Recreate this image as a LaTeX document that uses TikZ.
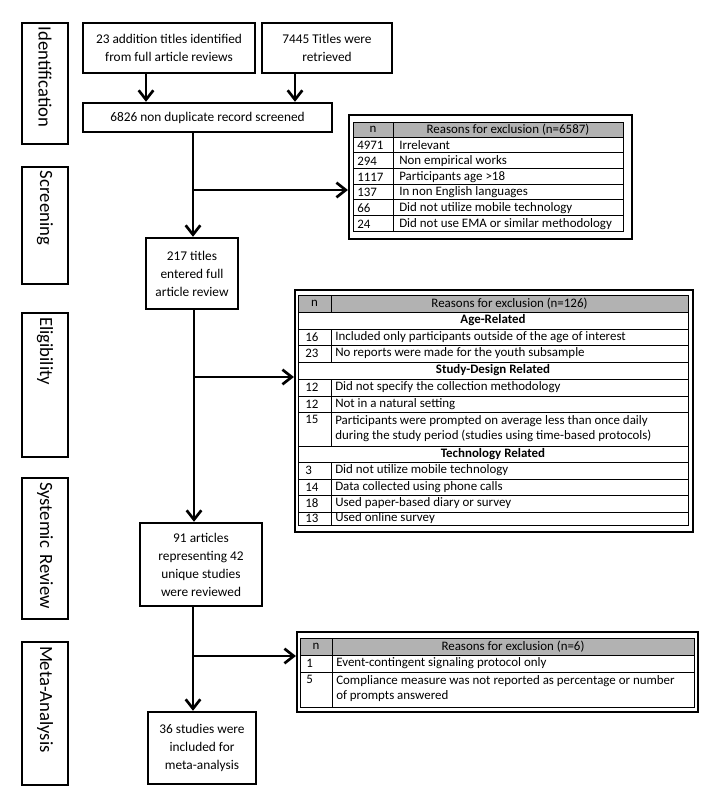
\documentclass[tikz,border=0pt]{standalone}
\usepackage{fontspec}
\setmainfont{Carlito}
\usetikzlibrary{arrows.meta,positioning,calc}

\begin{document}
\begin{tikzpicture}[x=0.75pt, y=-0.75pt,
    stage/.style={draw, line width=0.8pt, rotate=-90, align=left, inner sep=3pt, minimum height=34.5pt, font=\fontsize{14}{16}\selectfont},
    box/.style={draw, line width=1.8pt, align=center, inner sep=2pt, font=\fontsize{10}{13.5}\selectfont},
    frame/.style={draw, line width=1.6pt, inner sep=0pt},
    rule/.style={line width=0.6pt},
    hdrfill/.style={fill=gray!60},
    cell/.style={anchor=west, inner sep=0pt, font=\fontsize{9.7}{11.2}\selectfont},
    subhd/.style={anchor=center, inner sep=0pt, font=\bfseries\fontsize{9.7}{11.2}\selectfont},
    arr/.style={-{Straight Barb[length=7pt, width=11pt]}, line width=2pt}
]
\useasboundingbox (0,0) rectangle (720,809);

% --- Stage labels ---
\node[stage, text width=84.75pt] (sid) at (45,83.5) {Identification};
\node[stage, text width=81.75pt] (sscr) at (45,225.5) {Screening};
\node[stage, text width=102pt] (selig) at (45,385) {Eligibility};
\node[stage, text width=99.75pt] (ssys) at (45,548.5) {Systemic Review};
\node[stage, text width=101.25pt] (smeta) at (45,713.5) {Meta-Analysis};

% --- Flow boxes ---
\node[box, minimum width=129pt, minimum height=37.5pt] (add) at (169,48) {23 addition titles identified\\from full article reviews};
\node[box, minimum width=97.5pt, minimum height=37.5pt] (ret) at (327,48) {7445 Titles were\\retrieved};
\node[box, minimum width=186.75pt, minimum height=21.75pt] (scr) at (207.5,117.5) {6826 non duplicate record screened};
\node[box, minimum width=69pt, minimum height=53.25pt] (full) at (192,273.5) {217 titles\\entered full\\article review};
\node[box, minimum width=91.5pt, minimum height=62.25pt] (rev) at (201,564.5) {91 articles\\representing 42\\unique studies\\were reviewed};
\node[box, minimum width=81pt, minimum height=54pt] (meta) at (202,748) {36 studies were\\included for\\meta-analysis};

% --- Screening exclusions ---
\node[frame, minimum width=212.25pt, minimum height=93pt] (excl1) at (490.5,177) {};
\fill[hdrfill] (353,122) rectangle (623,137);
\node[cell, anchor=center] (h1n) at (373,129.5) {n};
\node[cell, anchor=center] (h1r) at (508,129.5) {Reasons for exclusion (n=6587)};
\begin{scope}
  \clip (353,122) rectangle (623,231);
  \foreach \n/\r [count=\i] in {4971/Irrelevant, 294/Non empirical works, 1117/Participants age >18, 137/In non English languages, 66/Did not utilize mobile technology, 24/Did not use EMA or similar methodology}{
    \pgfmathsetmacro{\yy}{137+(\i-1)*15.7+8.5}
    \node[cell] (n1-\i) at (357,\yy) {\n};
    \node[cell] (r1-\i) at (399,\yy) {\r};
    \draw[rule] (353,{137+(\i-1)*15.7}) -- (623,{137+(\i-1)*15.7});
  }
\end{scope}
\draw[rule] (353,122) rectangle (623,231);
\draw[rule] (393,122) -- (393,231);

% --- Eligibility exclusions ---
\node[frame, minimum width=298.5pt, minimum height=181.5pt] (excl2) at (494,411) {};
\fill[hdrfill] (298,295) rectangle (688,312);
\draw[rule] (298,295) rectangle (688,525);
\foreach \y in {312,329,345,362,379,396,412,446,462,479,495,512}
  \draw[rule] (298,\y) -- (688,\y);
\draw[rule] (331,295) -- (331,312) (331,329) -- (331,362) (331,379) -- (331,446) (331,462) -- (331,525);
\node[cell, anchor=center] (h2n) at (314.5,303.5) {n};
\node[cell, anchor=center] (h2r) at (509.5,303.5) {Reasons for exclusion (n=126)};
\node[subhd] (age) at (493,320.5) {Age-Related};
\node[subhd] (design) at (493,370.5) {Study-Design Related};
\node[subhd] (tech) at (493,454) {Technology Related};
\foreach \y/\n/\r [count=\i] in {337/16/Included only participants outside of the age of interest, 353.5/23/No reports were made for the youth subsample, 387.5/12/Did not specify the collection methodology, 404/12/Not in a natural setting, 470.5/3/Did not utilize mobile technology, 487/14/Data collected using phone calls, 503.5/18/Used paper-based diary or survey, 518.5/13/Used online survey}{
  \node[cell] (n2-\i) at (305,\y) {\n};
  \node[cell] (r2-\i) at (335,\y) {\r};
}
\node[cell, anchor=north west] (n2-p) at (305,415) {15};
\node[cell, anchor=north west, align=left] (r2-p) at (335,415) {Participants were prompted on average less than once daily\\during the study period (studies using time-based protocols)};

% --- Meta-analysis exclusions ---
\node[frame, minimum width=300.75pt, minimum height=60pt] (excl3) at (497.5,672) {};
\fill[hdrfill] (300,638) rectangle (694,655);
\draw[rule] (300,638) rectangle (694,707);
\draw[rule] (300,655) -- (694,655) (300,672) -- (694,672) (332,638) -- (332,707);
\node[cell, anchor=center] (h3n) at (316,646.5) {n};
\node[cell, anchor=center] (h3r) at (513,646.5) {Reasons for exclusion (n=6)};
\node[cell] (n3-1) at (306,663.5) {1};
\node[cell] (r3-1) at (336,663.5) {Event-contingent signaling protocol only};
\node[cell, anchor=north west] (n3-2) at (306,675) {5};
\node[cell, anchor=north west, align=left] (r3-2) at (336,675) {Compliance measure was not reported as percentage or number\\of prompts answered};

% --- Connectors ---
\coordinate (ca) at (146,0);
\coordinate (cr) at (295,0);
\coordinate (cm) at (193,0);
\coordinate (j1) at (193,190);
\coordinate (j2) at (194,377);
\coordinate (j3) at (193,656);
\draw[arr] (ca |- add.south) -- (ca |- scr.north);
\draw[arr] (cr |- ret.south) -- (cr |- scr.north);
\draw[arr] (cm |- scr.south) -- (cm |- full.north);
\draw[arr] (j1) -- (j1 -| excl1.west);
\draw[arr] (j2 |- full.south) -- (j2 |- rev.north);
\draw[arr] (j2) -- (j2 -| excl2.west);
\draw[arr] (cm |- rev.south) -- (cm |- meta.north);
\draw[arr] (j3) -- (j3 -| excl3.west);
\end{tikzpicture}
\end{document}
